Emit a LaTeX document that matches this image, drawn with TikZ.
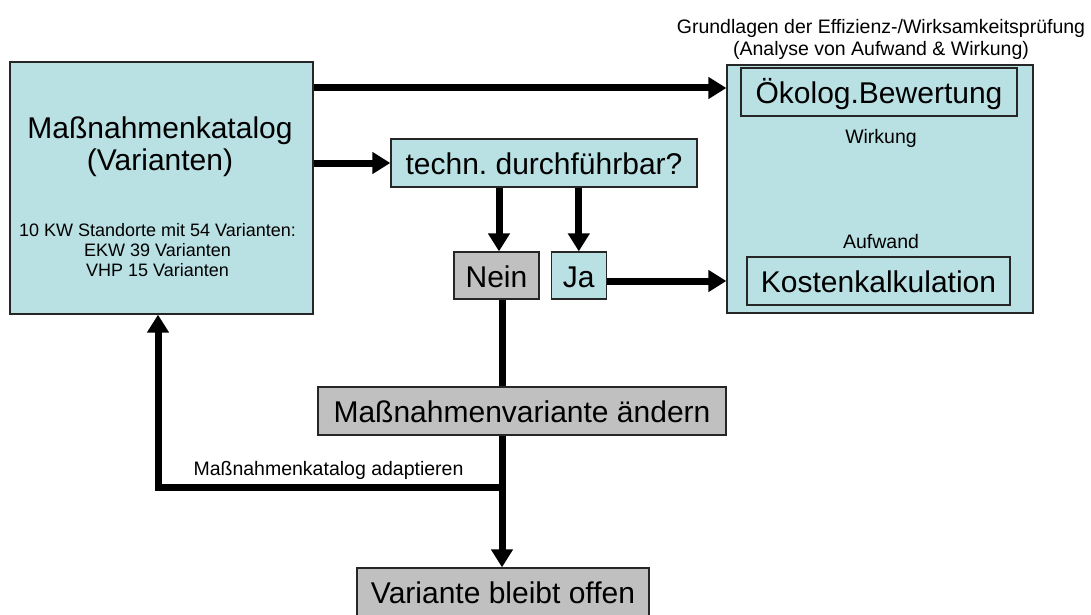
\documentclass[tikz,border=0pt]{standalone}
\usepackage{fontspec}
\setmainfont{Liberation Sans}
\usetikzlibrary{arrows.meta,positioning}
\definecolor{boxteal}{RGB}{185,224,227}
\definecolor{boxgray}{RGB}{192,192,192}
\frenchspacing

\begin{document}
\begin{tikzpicture}[x=1pt, y=-1pt, >={Triangle[length=18pt, width=21pt]},
    box/.style={draw=black!85, line width=1.3pt, inner sep=0pt},
    bigbox/.style={box, font=\fontsize{30}{32}\selectfont, text height=23pt, text depth=0pt, minimum height=48pt},
    small/.style={font=\fontsize{19.5}{22}\selectfont, align=center},
    flow/.style={line width=7pt}]
      \useasboundingbox (0,0) rectangle (1091,615);
      \node[box, fill=boxteal, minimum width=303pt, minimum height=252pt] (katalog) at (161.5,188) {};
      \node[font=\fontsize{30}{32.5}\selectfont, align=center] (kattext) at (160,146.5) {Maßnahmenkatalog\\(Varianten)};
      \node[font=\fontsize{18}{20}\selectfont, align=center] (katinfo) at (157.5,250.5) {10 KW Standorte mit 54 Varianten:\\EKW 39 Varianten\\VHP 15 Varianten};
      \node[bigbox, fill=boxteal, minimum width=306pt] (techn) at (544,163) {techn. durchführbar?};
      \node[bigbox, fill=boxgray, minimum width=85pt, minimum height=47pt] (nein) at (496.5,275.5) {Nein};
      \node[bigbox, fill=boxteal, minimum width=55pt, minimum height=47pt, right=11pt of nein] (ja) {Ja};
      \node[box, fill=boxteal, minimum width=306pt, minimum height=248pt] (grund) at (880,189) {};
      \node[small] (grundtitel) at (881,39) {Grundlagen der Effizienz-/Wirksamkeitsprüfung\\(Analyse von Aufwand \& Wirkung)};
      \node[bigbox, minimum width=276pt] (oeko) at (879,92) {Ökolog.Bewertung};
      \node[small, anchor=base] (wirkung) at (881,143) {Wirkung};
      \node[small, anchor=base] (aufwand) at (881,248) {Aufwand};
      \node[bigbox, minimum width=263pt] (kosten) at (878.5,281) {Kostenkalkulation};
      \node[bigbox, fill=boxgray, minimum width=408pt] (mvar) at (522,411) {Maßnahmenvariante ändern};
      \node[bigbox, fill=boxgray, minimum width=292pt] (offen) at (503,592) {Variante bleibt offen};
      \node[small, anchor=base west] (adapt) at (190,475) {Maßnahmenkatalog adaptieren};
      \coordinate (split) at (502,487);
      \coordinate (topin) at ([yshift=4pt]oeko.west);
      \draw[flow, ->] (katalog.east |- topin) -- (grund.west |- topin);
      \draw[flow, ->] (katalog.east |- techn.west) -- (techn.west);
      \draw[flow, ->] ([xshift=2.5pt]nein.north |- techn.south) -- ([xshift=2.5pt]nein.north);
      \draw[flow, ->] (ja.north |- techn.south) -- (ja.north);
      \draw[flow, ->] (ja.east |- kosten.west) -- (grund.west |- kosten.west);
      \draw[flow] (nein.south -| split) -- (mvar.north -| split);
      \draw[flow, ->] (mvar.south -| split) -- (offen.north -| split);
      \draw[flow, ->] (split) -| ([xshift=-3.5pt]katalog.south);
    \end{tikzpicture}
\end{document}
